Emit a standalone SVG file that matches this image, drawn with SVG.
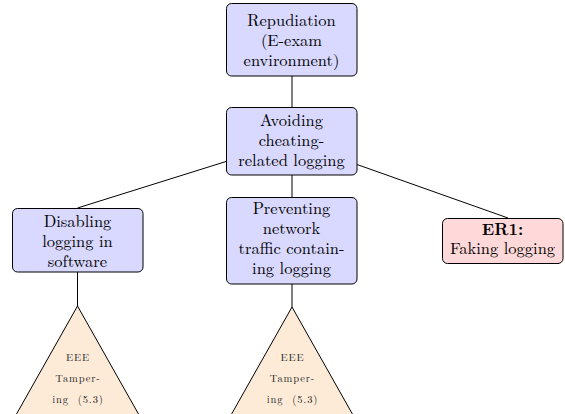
<svg xmlns="http://www.w3.org/2000/svg" width="565" height="414" viewBox="0 0 565 414">
  <style>
    .box { stroke: #000; stroke-width: 1; }
    .blue { fill: #d9d9ff; }
    .red { fill: #ffd9d9; }
    .tree { fill: #fdebd8; stroke: #000; stroke-width: 1; }
    .edge { stroke: #000; stroke-width: 1; fill: none; }
    text { font-family: "Latin Modern Roman", "Liberation Serif", serif; fill: #000; text-anchor: middle; }
    .lbl { font-size: 16.5px; }
    .small { font-size: 10.5px; letter-spacing: 0.9px; fill: #222; }
    .bold { font-weight: bold; }
  </style>
  <rect width="565" height="414" fill="#fff"/>

  <g id="connectors">
    <line class="edge" x1="292" y1="76" x2="292" y2="107"/>
    <line class="edge" x1="226" y1="161.5" x2="77.5" y2="208"/>
    <line class="edge" x1="292" y1="175" x2="292" y2="197"/>
    <line class="edge" x1="357" y1="164.5" x2="508" y2="218"/>
    <line class="edge" x1="77.5" y1="272" x2="77.5" y2="306"/>
    <line class="edge" x1="292" y1="284" x2="292" y2="307"/>
  </g>

  <g id="root">
    <rect class="box blue" x="226.5" y="3.5" width="130.5" height="72.5" rx="5"/>
    <text class="lbl" x="291.5" y="26">Repudiation</text>
    <text class="lbl" x="291.5" y="46">(E-exam</text>
    <text class="lbl" x="291.5" y="66">environment)</text>
  </g>

  <g id="avoiding">
    <rect class="box blue" x="226.5" y="107.5" width="130.5" height="67.5" rx="5"/>
    <text class="lbl" x="291.5" y="126">Avoiding</text>
    <text class="lbl" x="291.5" y="146">cheating-</text>
    <text class="lbl" x="291.5" y="166">related logging</text>
  </g>

  <g id="disabling">
    <rect class="box blue" x="12.5" y="208.5" width="130.5" height="63.5" rx="5"/>
    <text class="lbl" x="77.5" y="227">Disabling</text>
    <text class="lbl" x="77.5" y="247">logging in</text>
    <text class="lbl" x="77.5" y="267">software</text>
  </g>

  <g id="preventing">
    <rect class="box blue" x="226.5" y="197.5" width="130.5" height="86.5" rx="5"/>
    <text class="lbl" x="291.5" y="214">Preventing</text>
    <text class="lbl" x="291.5" y="234">network</text>
    <text class="lbl" x="291.5" y="254">traffic contain-</text>
    <text class="lbl" x="291.5" y="274">ing logging</text>
  </g>

  <g id="er1">
    <rect class="box red" x="442.5" y="218.5" width="120.5" height="45" rx="5"/>
    <text class="lbl bold" x="502.5" y="235">ER1:</text>
    <text class="lbl" x="502.5" y="254">Faking logging</text>
  </g>

  <g id="tamper-left">
    <polygon class="tree" points="77.5,306 7.5,430 147.5,430"/>
    <text class="small" x="78" y="361">EEE</text>
    <text class="small" x="78" y="382">Tamper-</text>
    <text class="small" x="78" y="403" xml:space="preserve">ing  (5.3)</text>
  </g>

  <g id="tamper-middle">
    <polygon class="tree" points="292,307 222,431 362,431"/>
    <text class="small" x="292.5" y="361">EEE</text>
    <text class="small" x="292.5" y="382">Tamper-</text>
    <text class="small" x="292.5" y="403" xml:space="preserve">ing  (5.3)</text>
  </g>
</svg>
